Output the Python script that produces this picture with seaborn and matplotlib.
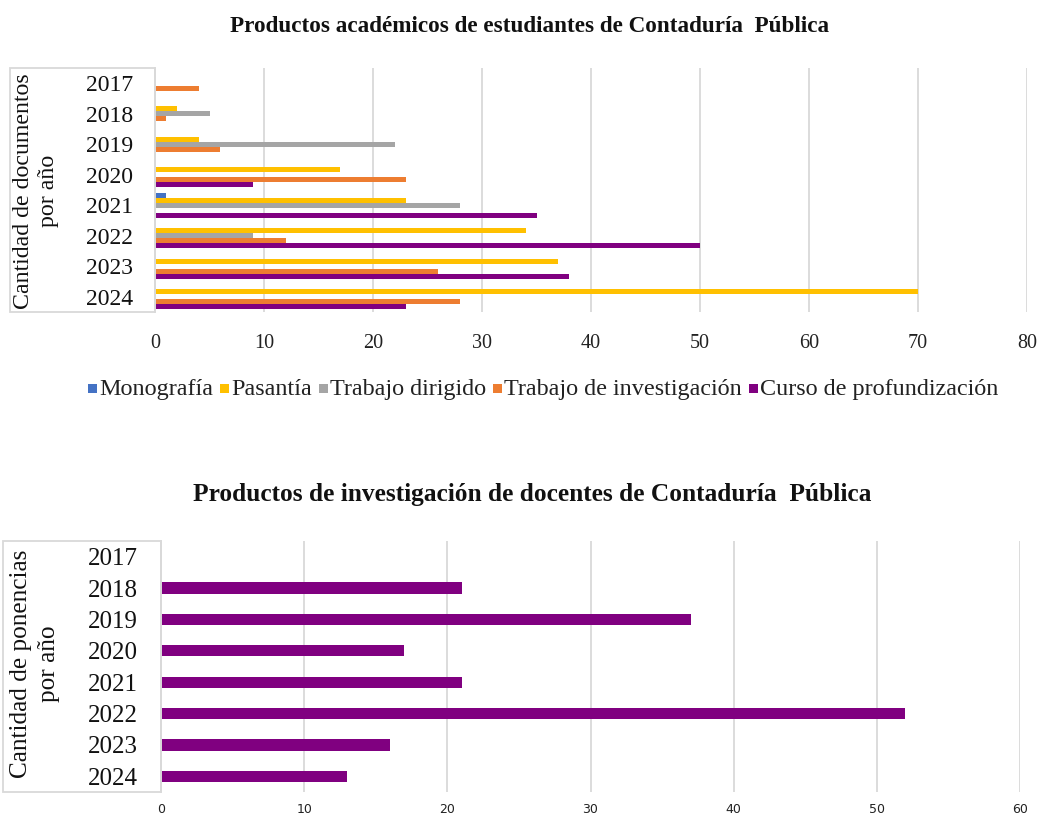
import pandas as pd
import numpy as np
import matplotlib
matplotlib.use("Agg")
import matplotlib.pyplot as plt
import seaborn as sns
from matplotlib.patches import Rectangle

# --- data ---
years = ["2017", "2018", "2019", "2020", "2021", "2022", "2023", "2024"]

monografia = [0, 0, 0, 0, 1, 0, 0, 0]
pasantia = [0, 2, 4, 17, 23, 34, 37, 70]
trabajo_dirigido = [0, 5, 22, 0, 28, 9, 0, 0]
trabajo_investigacion = [4, 1, 6, 23, 0, 12, 26, 28]
curso_profundizacion = [0, 0, 0, 9, 35, 50, 38, 23]

series_names = ["Monografía", "Pasantía", "Trabajo dirigido",
                "Trabajo de investigación", "Curso de profundización"]
series_colors = ["#4472C4", "#FFC000", "#A5A5A5", "#ED7D31", "#800080"]

ponencias = [0, 21, 37, 17, 21, 52, 16, 13]

top_ticks = [0, 10, 20, 30, 40, 50, 60, 70, 80]
bottom_ticks = [0, 10, 20, 30, 40, 50, 60]

# long table for the grouped chart
series_values = [monografia, pasantia, trabajo_dirigido,
                 trabajo_investigacion, curso_profundizacion]
rows = []
for name, vals in zip(series_names, series_values):
    for y, v in zip(years, vals):
        rows.append({"year": y, "serie": name, "valor": v})
df_est = pd.DataFrame(rows)
df_doc = pd.DataFrame({"year": years, "valor": ponencias})

sns.set_theme(style="white")
plt.rcParams["font.family"] = ["Liberation Serif", "DejaVu Serif"]

W, H = 1039, 815
fig = plt.figure(figsize=(W / 100, H / 100), dpi=100)


def px_axes(left, top, right, bottom):
    return fig.add_axes([left / W, 1 - bottom / H, (right - left) / W, (bottom - top) / H])


grid_col = "#D9D9D9"

# ---------- top chart ----------
ax1 = px_axes(155, 68, 1027, 312)
sns.barplot(data=df_est, x="valor", y="year", hue="serie", order=years,
            hue_order=series_names, palette=series_colors, orient="h",
            width=0.82, dodge=True, linewidth=0, saturation=1, ax=ax1, legend=False)
ax1.set_xlim(0, 80)
ax1.set_xticks(top_ticks)
ax1.grid(axis="x", color=grid_col, linewidth=1.3)
ax1.set_axisbelow(True)
for s in ["top", "right", "bottom"]:
    ax1.spines[s].set_visible(False)
ax1.spines["left"].set_color(grid_col)
ax1.spines["left"].set_linewidth(1.3)
ax1.tick_params(axis="x", length=0, pad=16, labelsize=14.5, colors="#222222")
ax1.tick_params(axis="y", length=0, pad=16, labelsize=17, colors="#111111")
ax1.set_xlabel("")
ax1.set_ylabel("")

fig.text(530 / W, 1 - 27 / H, "Productos académicos de estudiantes de Contaduría  Pública",
         ha="center", va="center", fontsize=16.7, fontweight="bold", color="#111111")
fig.text(36 / W, 1 - 191 / H, "Cantidad de documentos\npor año", rotation=90,
         ha="center", va="center", multialignment="center", fontsize=17.2,
         linespacing=1.3, color="#111111")
fig.add_artist(Rectangle((10 / W, 1 - 312 / H), 145 / W, 244 / H, transform=fig.transFigure,
                         fill=False, edgecolor=grid_col, linewidth=1.3))

# legend row laid out by hand so every label shares one baseline
renderer = fig.canvas.get_renderer()
leg_size = 17.4
sq, sq_gap, item_gap = 9, 2, 7
widths = []
for name in series_names:
    t = fig.text(0, 0, name, fontsize=leg_size)
    widths.append(t.get_window_extent(renderer).width)
    t.remove()
total = sum(widths) + len(series_names) * (sq + sq_gap) + (len(series_names) - 1) * item_gap
x = 543 - total / 2
baseline = 395
for name, col, w in zip(series_names, series_colors, widths):
    fig.add_artist(Rectangle((x / W, 1 - (baseline - 2) / H), sq / W, sq / H,
                             transform=fig.transFigure, facecolor=col, edgecolor="none"))
    x += sq + sq_gap
    fig.text(x / W, 1 - baseline / H, name, fontsize=leg_size, va="baseline",
             ha="left", color="#222222")
    x += w + item_gap

# ---------- bottom chart ----------
ax2 = px_axes(161, 541, 1020, 792)
sns.barplot(data=df_doc, x="valor", y="year", order=years, color="#800080",
            orient="h", width=0.36, linewidth=0, saturation=1, ax=ax2)
ax2.set_xlim(0, 60)
ax2.set_xticks(bottom_ticks)
ax2.grid(axis="x", color=grid_col, linewidth=1.3)
ax2.set_axisbelow(True)
for s in ["top", "right", "bottom"]:
    ax2.spines[s].set_visible(False)
ax2.spines["left"].set_color(grid_col)
ax2.spines["left"].set_linewidth(1.3)
ax2.tick_params(axis="x", length=0, pad=8, labelsize=9, colors="#222222")
for lab in ax2.get_xticklabels():
    lab.set_family("DejaVu Sans")
ax2.tick_params(axis="y", length=0, pad=17, labelsize=18, colors="#111111")
ax2.set_xlabel("")
ax2.set_ylabel("")

fig.text(532 / W, 1 - 494 / H, "Productos de investigación de docentes de Contaduría  Pública",
         ha="center", va="center", fontsize=18.3, fontweight="bold", color="#111111")
fig.text(35 / W, 1 - 664 / H, "Cantidad de ponencias\npor año", rotation=90,
         ha="center", va="center", multialignment="center", fontsize=18.2,
         linespacing=1.3, color="#111111")
fig.add_artist(Rectangle((3 / W, 1 - 792 / H), 158 / W, 251 / H, transform=fig.transFigure,
                         fill=False, edgecolor=grid_col, linewidth=1.3))

fig.savefig("out.png", dpi=100)
